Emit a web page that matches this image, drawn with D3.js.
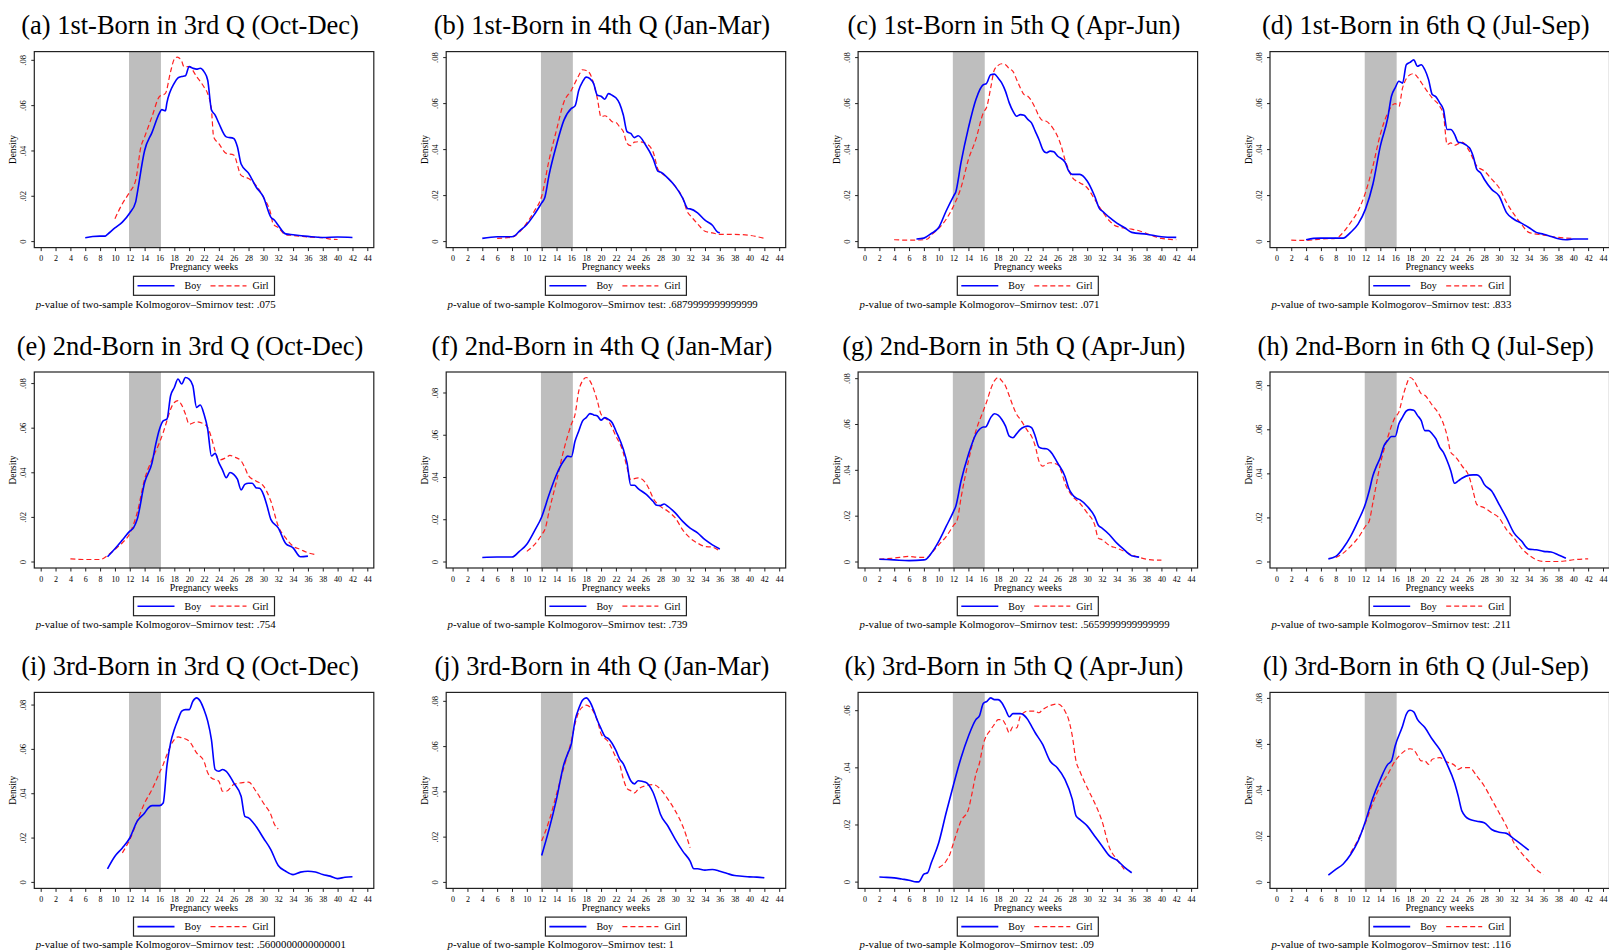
<!DOCTYPE html>
<html>
<head>
<meta charset="utf-8">
<script src="https://cdn.jsdelivr.net/npm/d3@7"></script>
<style>
  body { margin: 0; background: #fff; }
  svg { display: block; }
  text { font-family: "Liberation Serif", "Times New Roman", serif; fill: #000; }
</style>
</head>
<body>
<svg width="1609" height="952"></svg>
<script>
// Panel titles and KS p-values
var titles = [
    "(a) 1st-Born in 3rd Q (Oct-Dec)", "(b) 1st-Born in 4th Q (Jan-Mar)",
    "(c) 1st-Born in 5th Q (Apr-Jun)", "(d) 1st-Born in 6th Q (Jul-Sep)",
    "(e) 2nd-Born in 3rd Q (Oct-Dec)", "(f) 2nd-Born in 4th Q (Jan-Mar)",
    "(g) 2nd-Born in 5th Q (Apr-Jun)", "(h) 2nd-Born in 6th Q (Jul-Sep)",
    "(i) 3rd-Born in 3rd Q (Oct-Dec)", "(j) 3rd-Born in 4th Q (Jan-Mar)",
    "(k) 3rd-Born in 5th Q (Apr-Jun)", "(l) 3rd-Born in 6th Q (Jul-Sep)"
];
var pValues = [".075", ".6879999999999999", ".071", ".833",
               ".754", ".739", ".5659999999999999", ".211",
               ".5600000000000001", "1", ".09", ".116"];

// Axis ticks
var xTicks = [0, 2, 4, 6, 8, 10, 12, 14, 16, 18, 20, 22, 24, 26, 28, 30, 32, 34, 36, 38, 40, 42, 44];
var yTickTop = [.08, .08, .08, .08, .08, .08, .08, .08, .08, .08, .06, .08];
var shadeWeeks = [11.9, 16.2];

// Density curves: [week, density]
var boy_a = [[6,.0015],[7,.002],[8,.0022],[8.7,.0022],[9,.003],[10,.0058],[11,.0084],[12,.0124],[12.8,.0173],[13,.021],[14,.040],[15,.048],[16,.0565],[16.3,.058],[16.8,.0575],[17,.061],[18,.0697],[18.5,.072],[19,.0726],[19.5,.073],[20,.077],[20.5,.0763],[21,.0759],[21.5,.0763],[22,.0748],[22.5,.071],[23,.058],[23.5,.0556],[24,.052],[25,.046],[26,.0453],[26.5,.0416],[27,.034],[28,.030],[29,.024],[30,.0195],[31,.0106],[31.5,.0092],[32,.007],[33,.0032],[34,.0028],[36,.0021],[38,.0016],[40,.0018],[42,.0016]];
var girl_a = [[10,.0099],[11,.0165],[12,.0217],[12.8,.0269],[13.5,.0416],[14,.046],[15,.055],[16,.0638],[16.8,.0652],[17.5,.0748],[18,.0803],[18.4,.0812],[19,.0793],[19.3,.077],[20,.077],[21,.0726],[22,.068],[22.5,.065],[23,.058],[23.3,.046],[24,.043],[25,.0387],[26,.038],[27,.029],[28,.0276],[29,.0246],[30,.0195],[31,.012],[31.3,.0077],[32,.0059],[33,.0028],[34,.0025],[36,.0018],[38,.0015],[39,.0009],[40,.0007]];

var boy_b = [[4,.0012],[6,.0019],[8,.0019],[8.3,.0022],[9,.0043],[10,.0072],[11,.0115],[12,.0166],[12.4,.0187],[13,.0288],[14,.0418],[15,.0526],[16,.0577],[16.5,.0588],[17,.0656],[17.5,.0692],[18,.0713],[18.5,.0706],[19,.0685],[19.5,.0634],[20,.063],[20.5,.0617],[21,.0641],[21.5,.0634],[22,.0623],[22.5,.0598],[23,.0548],[23.5,.0476],[24,.0468],[24.5,.045],[25,.0458],[26,.0418],[27,.036],[27.7,.0303],[28,.030],[29,.0274],[30,.0238],[31,.0187],[31.7,.0141],[32,.014],[33,.0123],[34,.0091],[35,.0069],[35.7,.0039],[36,.0036]];
var girl_b = [[6,.0012],[8,.0017],[9,.0039],[10,.0079],[11,.013],[12,.0195],[13,.0353],[14,.0483],[15,.0605],[16,.0656],[17,.072],[17.5,.0745],[18,.0742],[18.5,.0728],[19,.0685],[19.5,.062],[20,.054],[20.5,.0545],[21,.0536],[21.5,.0519],[22,.0516],[22.5,.0497],[23,.0476],[23.5,.0425],[24,.0415],[24.5,.043],[25,.0432],[26,.0425],[27,.0389],[27.7,.031],[28,.030],[29,.0274],[30,.0238],[31,.0187],[31.7,.0123],[32,.0112],[33,.0075],[34,.0043],[35,.0036],[36,.0029],[38,.0029],[40,.0025],[42,.0012]];

var boy_c = [[7,.0009],[8,.0013],[9,.0033],[10,.0059],[11,.0131],[12,.0196],[12.3,.0214],[13,.0341],[14,.0492],[15,.0615],[16,.068],[16.4,.0684],[17,.0723],[17.5,.0726],[18,.0709],[18.5,.0687],[19,.0651],[19.5,.0601],[20,.0565],[20.5,.0543],[21,.055],[21.5,.0547],[22,.0529],[22.5,.0514],[23,.0478],[23.5,.0442],[24,.0399],[24.5,.0384],[25,.0391],[25.5,.0388],[26,.037],[27,.0344],[27.5,.0305],[28,.029],[29,.029],[30,.0261],[31,.0196],[31.7,.0139],[32,.0131],[33,.0103],[34,.0078],[35,.0059],[36,.0038],[38,.003],[40,.0019],[42,.0016]];
var girl_c = [[4,.0006],[6,.0004],[8,.0006],[8.5,.0009],[9,.0026],[10,.0055],[11,.0095],[12,.0153],[13,.0232],[14,.0355],[15,.0442],[16,.0557],[16.5,.0586],[17,.0666],[17.5,.0745],[18,.0764],[18.5,.0771],[19,.0767],[19.5,.0749],[20,.0738],[20.5,.0702],[21,.0666],[21.5,.0637],[22,.063],[23,.0579],[23.5,.0543],[24,.0524],[24.5,.0521],[25,.0507],[25.5,.0485],[26,.0456],[26.5,.0413],[27,.0355],[27.5,.0312],[28,.0276],[29,.0254],[30,.0232],[31,.0182],[32,.0131],[33,.0088],[34,.0064],[36,.0052],[37,.0045],[38,.0033],[40,.0012],[42,.0006]];

var boy_d = [[4,.0006],[5,.0012],[6,.0013],[8,.0013],[9,.0013],[10,.0038],[11,.0074],[12,.0139],[13,.0247],[14,.0413],[15,.0536],[15.5,.063],[16,.0666],[16.5,.0695],[17,.0687],[17.5,.0767],[18,.0777],[18.5,.0788],[19,.076],[19.5,.0767],[20,.0745],[20.5,.0702],[21,.0637],[21.5,.0627],[22,.0601],[22.5,.0572],[23,.0485],[23.5,.0485],[24,.0464],[24.5,.043],[25,.0427],[26,.0406],[26.5,.037],[27,.0312],[27.5,.0297],[28,.0269],[29,.0225],[30,.0196],[31,.0124],[32,.0095],[33,.0078],[34,.0059],[35,.0038],[36,.003],[37,.002],[38,.001],[39,.0006],[40,.0009],[42,.0009]];
var girl_d = [[2,.0004],[4,.0003],[6,.0009],[8,.0012],[9,.0038],[10,.0081],[11,.0131],[12,.0211],[13,.0326],[14,.0464],[15,.0557],[16,.0598],[16.5,.0586],[17,.0666],[18,.0723],[18.5,.0728],[19,.0713],[20,.0666],[21,.0622],[22,.0586],[22.5,.055],[23,.042],[23.5,.0427],[24,.0416],[25,.043],[26,.0391],[27,.0326],[28,.0305],[29,.0269],[30,.0232],[31,.0168],[32,.0117],[33,.0074],[34,.0038],[36,.0026],[38,.0016],[40,.0012]];

var boy_e = [[9,.0021],[10,.0057],[11,.0096],[12,.0136],[12.5,.0151],[13,.0189],[14,.0354],[15,.0443],[15.5,.0526],[16,.0593],[16.5,.0631],[17,.0638],[17.5,.0743],[18,.078],[18.5,.0818],[19,.0796],[19.5,.0825],[20,.0818],[20.5,.0788],[21,.0691],[21.5,.0702],[22,.0661],[22.5,.0593],[23,.0473],[23.5,.0485],[24,.0443],[24.5,.041],[25,.0376],[25.5,.0399],[26,.0391],[26.5,.0369],[27,.0321],[27.5,.0346],[28,.0351],[28.5,.0351],[29,.0331],[29.5,.0328],[30,.0301],[30.5,.0249],[31,.0189],[32,.0151],[33,.0081],[34,.0061],[35,.0021],[36,.0024]];
var girl_e = [[4,.0012],[6,.0009],[8,.0009],[9,.0027],[10,.0054],[11,.0084],[12,.0126],[13,.0219],[14,.0369],[15,.0458],[16,.0533],[16.5,.0578],[17,.0631],[17.5,.0683],[18,.0713],[18.5,.0721],[19,.0701],[19.5,.0661],[20,.0616],[21,.0626],[22,.0616],[22.5,.0601],[23,.0556],[23.5,.0496],[24,.0455],[25,.0466],[25.5,.0476],[26,.047],[27,.0451],[27.5,.0421],[28,.0384],[29,.0361],[30,.0339],[31,.0271],[32,.0159],[33,.0106],[34,.0069],[35,.0054],[36,.0039],[37,.0031]];

var boy_f = [[4,.0019],[6,.0021],[8,.0021],[9,.0048],[10,.0082],[11,.0143],[12,.0211],[13,.0317],[14,.0412],[15,.0478],[15.5,.0499],[16,.0496],[16.5,.057],[17,.0618],[17.5,.0665],[18,.0681],[18.5,.070],[19,.0694],[19.5,.0689],[20,.0669],[20.5,.0681],[21,.0673],[21.5,.0657],[22,.0618],[23,.0531],[23.5,.0467],[24,.0361],[24.5,.0361],[25,.0345],[26,.032],[27,.0285],[27.5,.0266],[28,.0265],[28.5,.0272],[29,.0261],[30,.023],[31,.019],[32,.0158],[33,.0135],[34,.0103],[35,.0079],[36,.0059]];
var girl_f = [[10,.0048],[11,.0079],[12,.0127],[12.5,.0158],[13,.0238],[14,.038],[15,.0531],[16,.065],[16.5,.0697],[17,.0808],[17.5,.0855],[18,.0871],[18.5,.0855],[19,.0816],[19.5,.076],[20,.0697],[21,.0665],[22,.0594],[23,.0515],[23.5,.0444],[24,.0388],[25,.0396],[26,.0372],[26.5,.0341],[27,.0301],[28,.0261],[29,.0238],[30,.0206],[31,.015],[32,.0111],[33,.0087],[34,.0071],[35,.0068],[36,.0048]];

var boy_g = [[2,.001],[4,.0007],[6,.0004],[8,.0007],[8.3,.001],[9,.0036],[10,.0088],[11,.0153],[12,.0219],[12.3,.0241],[13,.035],[14,.0467],[15,.0555],[15.5,.0577],[16,.0587],[16.3,.0587],[17,.0628],[17.5,.0645],[18,.0639],[18.5,.062],[19,.0591],[19.5,.0547],[20,.054],[20.5,.0558],[21,.0577],[21.5,.0587],[22,.0591],[22.5,.0584],[23,.0547],[23.5,.0499],[24,.0493],[24.5,.0492],[25,.0482],[26,.0431],[27,.0372],[27.5,.0321],[28,.0292],[28.5,.0277],[29,.027],[30,.0241],[31,.0197],[31.5,.0158],[32,.0146],[33,.0117],[34,.008],[35,.0051],[36,.0025],[37,.0019]];
var girl_g = [[2,.001],[4,.0015],[6,.0022],[7,.0019],[8,.0018],[8.5,.0018],[9,.0036],[10,.0073],[11,.0109],[12,.0158],[12.5,.0182],[13,.0277],[14,.0438],[15,.0569],[16,.0657],[16.5,.0701],[17,.0752],[17.5,.0788],[18,.0803],[18.5,.0788],[19,.0766],[19.5,.0723],[20,.0679],[20.5,.0642],[21,.062],[22,.0569],[22.5,.0547],[23,.0504],[23.5,.0438],[24,.0416],[24.5,.0426],[25,.0431],[26,.0423],[26.5,.0394],[27,.0343],[28,.0285],[29,.0255],[30,.0212],[31,.0161],[31.5,.0102],[32,.0095],[33,.007],[34,.0058],[35,.0044],[36,.0029],[37,.0018],[38,.001],[39,.0006],[40,.0006]];

var boy_h = [[7,.0012],[8,.0023],[9,.0061],[10,.0114],[11,.0183],[12,.0262],[12.5,.032],[13,.0389],[13.5,.0434],[14,.0472],[14.5,.0526],[15,.0549],[15.5,.0567],[16,.0567],[16.5,.0625],[17,.0655],[17.5,.0683],[18,.0689],[18.5,.0686],[19,.0663],[19.5,.064],[20,.0594],[20.5,.0594],[21,.0579],[21.5,.0556],[22,.0518],[22.5,.0495],[23,.0457],[23.5,.0411],[24,.0355],[24.5,.0366],[25,.0378],[26,.0392],[26.5,.0393],[27,.0393],[27.5,.0381],[28,.035],[29,.032],[30,.0259],[31,.0198],[32,.013],[33,.0094],[34,.0056],[35,.0053],[36,.0046],[37,.0043],[38,.003],[39,.0015]];
var girl_h = [[8,.0018],[9,.0038],[10,.0069],[11,.0107],[12,.016],[12.5,.0183],[13,.0267],[14,.0442],[15,.0564],[16,.0655],[16.5,.0678],[17,.0744],[17.5,.080],[18,.0835],[18.5,.0823],[19,.0792],[19.5,.0762],[20,.0754],[21,.0709],[22,.0663],[22.5,.0625],[23,.0571],[23.5,.0495],[24,.048],[25,.0434],[26,.0381],[26.5,.032],[27,.0259],[28,.0244],[29,.0221],[30,.0198],[31,.0145],[32,.0107],[33,.0061],[34,.003],[35,.0008],[36,0],[38,0],[39,.0003],[40,.0008],[42,.0012]];

var boy_i = [[9,.0059],[10,.0116],[11,.0153],[12,.0198],[13,.0274],[14,.0311],[14.5,.0334],[15,.0344],[16,.0344],[16.5,.0356],[17,.0522],[17.5,.0627],[18,.0687],[18.5,.0732],[19,.077],[19.5,.0777],[20,.0777],[20.5,.0815],[21,.083],[21.5,.0815],[22,.0777],[22.5,.0725],[23,.0642],[23.5,.0507],[24,.0499],[24.5,.0507],[25,.0499],[26,.0447],[27,.0386],[27.5,.0296],[28,.0289],[29,.0251],[30,.0198],[31,.0146],[32,.0074],[33,.0048],[34,.0033],[35,.0044],[36,.0048],[37,.0045],[38,.0033],[39,.0026],[40,.0015],[41,.0021],[42,.0023]];
var girl_i = [[11,.0131],[12,.0191],[13,.0274],[14,.0356],[15,.0417],[16,.0492],[16.5,.0529],[17,.0574],[18,.0642],[18.5,.0654],[19,.065],[20,.0635],[21,.0582],[22,.0544],[22.5,.0492],[23,.0469],[24,.0454],[24.5,.0409],[25,.0409],[26,.0439],[27,.0447],[28,.045],[29,.0409],[30,.0356],[31,.0304],[31.5,.0259],[32,.0239]];

var boy_j = [[12,.0117],[13,.0233],[14,.0366],[15,.0521],[15.5,.0566],[16,.061],[16.5,.0714],[17,.0766],[17.5,.0803],[18,.0813],[18.5,.0796],[19,.0759],[19.5,.0714],[20,.0677],[20.5,.0644],[21,.0633],[22,.0581],[22.5,.0544],[23,.0521],[23.5,.0484],[24,.0447],[24.5,.0433],[25,.0447],[26,.044],[26.5,.0425],[27,.0396],[27.5,.0351],[28,.0299],[29,.0247],[30,.0188],[31,.0136],[32,.0092],[32.5,.0058],[33,.0058],[34,.0052],[35,.0055],[36,.0047],[37,.0037],[38,.0028],[39,.0025],[40,.0022],[41,.0021],[42,.0018]];
var girl_j = [[12,.0181],[13,.027],[14,.0388],[15,.0507],[16,.0625],[16.5,.0699],[17,.0751],[17.5,.0773],[18,.0781],[18.5,.0773],[19,.0751],[19.5,.0714],[20,.0655],[21,.0618],[22,.0551],[22.5,.0521],[23,.0455],[23.5,.0413],[24,.0403],[24.5,.0393],[25,.041],[26,.0425],[27,.043],[28,.041],[29,.0366],[30,.0314],[31,.0247],[32,.0151]];

var boy_k = [[2,.0016],[3,.0015],[4,.0013],[5,.0009],[6,.0005],[7,-.0001],[7.3,-.0001],[8,.0026],[8.5,.0031],[9,.0066],[10,.0136],[11,.0241],[12,.034],[13,.0433],[14,.0509],[15,.0567],[15.5,.0581],[16,.0623],[16.5,.0631],[17,.0643],[17.5,.0637],[18,.0637],[18.5,.0626],[19,.0602],[19.5,.0577],[20,.0588],[21,.0588],[22,.0567],[22.5,.0544],[23,.0521],[24,.048],[25,.0422],[26,.0398],[27,.0358],[28,.0288],[28.5,.023],[29,.0218],[30,.0195],[31,.016],[32,.0125],[33,.009],[34,.0075],[35,.0051],[36,.0031]];
var girl_k = [[10,.0049],[11,.0072],[11.5,.0096],[12,.0136],[13,.0212],[14,.0253],[14.5,.0311],[15,.0375],[15.5,.0416],[16,.048],[17,.0532],[17.5,.055],[18,.0567],[18.5,.0567],[19,.055],[19.5,.0521],[20,.0542],[20.5,.0538],[21,.0579],[22,.0597],[23,.0597],[23.5,.0591],[24,.0602],[25,.0616],[26,.0622],[27,.0597],[27.5,.0567],[28,.0509],[28.5,.0422],[29,.0387],[30,.0329],[31,.0276],[32,.0212],[33,.0119],[34,.0078],[35,.0043]];

var boy_l = [[7,.0029],[8,.0054],[9,.0078],[10,.0119],[11,.0177],[12,.0264],[13,.0366],[14,.0446],[15,.0511],[15.5,.0526],[16,.0591],[17,.0678],[17.5,.0729],[18,.0746],[18.5,.0739],[19,.0707],[20,.0671],[21,.062],[22,.0576],[23,.0511],[24,.0431],[24.5,.0373],[25,.0308],[26,.0272],[27,.0264],[28,.0257],[29,.0228],[30,.0216],[31,.0211],[32,.0187],[33,.0163],[34,.0138]];
var girl_l = [[10,.0126],[11,.0184],[12,.0257],[13,.0344],[14,.0417],[15,.0468],[16,.0526],[17,.0562],[18,.0579],[18.5,.0574],[19,.055],[19.5,.0526],[20,.0526],[20.5,.0511],[21,.0533],[22,.054],[23,.0521],[24,.0507],[24.5,.0489],[25,.0497],[26,.0497],[27,.046],[28,.0417],[29,.0359],[30,.0301],[31,.0242],[32,.017],[33,.0126],[34,.009],[35,.0054],[36,.0032]];

var boys = [boy_a, boy_b, boy_c, boy_d, boy_e, boy_f, boy_g, boy_h, boy_i, boy_j, boy_k, boy_l];
var girls = [girl_a, girl_b, girl_c, girl_d, girl_e, girl_f, girl_g, girl_h, girl_i, girl_j, girl_k, girl_l];

// Layout
var colX0 = 40.7, colStep = 411.9, xSpan = 326.6,
    rowTop = 51.6, rowStep = 320.4, frameH = 196;

var boyColour = "#0000ff", girlColour = "#ff2020";
var serif = '"Liberation Serif", "Times New Roman", serif';

var svg = d3.select("svg");
svg.append("rect").attr("width", 1609).attr("height", 952).attr("fill", "#fff");

titles.forEach(function(title, i) {
    var col = i % 4, row = Math.floor(i / 4);
    var top = rowTop + row * rowStep,
        bottom = top + frameH;

    var x = d3.scaleLinear()
        .domain([0, 44])
        .range([colX0 + col * colStep, colX0 + col * colStep + xSpan]);
    var left = x(0) - 6.4, right = x(44) + 6.5, mid = x(22);

    var all = boys[i].concat(girls[i]);
    var yMax = Math.max(yTickTop[i], d3.max(all, function(d) { return d[1]; })),
        yMin = Math.min(0, d3.min(all, function(d) { return d[1]; }));
    var y = d3.scaleLinear()
        .domain([yMin, yMax])
        .range([bottom - 6.5, top + 5.5]);

    var g = svg.append("g").attr("class", "panel");

    // Title
    g.append("text")
        .attr("x", (left + right) / 2 - 14)
        .attr("y", top - 17.4)
        .attr("text-anchor", "middle")
        .style("font-size", "26.5px")
        .text(title);

    // Shaded weeks 12-16
    g.append("rect")
        .attr("x", x(shadeWeeks[0]))
        .attr("y", top)
        .attr("width", x(shadeWeeks[1]) - x(shadeWeeks[0]))
        .attr("height", bottom - top)
        .attr("fill", "#bebebe");

    // Curves
    var line = d3.line()
        .x(function(d) { return x(d[0]); })
        .y(function(d) { return y(d[1]); })
        .curve(d3.curveMonotoneX);

    g.append("path")
        .datum(girls[i])
        .attr("d", line)
        .attr("fill", "none")
        .attr("stroke", girlColour)
        .attr("stroke-width", 1.2)
        .attr("stroke-dasharray", "5,3");

    g.append("path")
        .datum(boys[i])
        .attr("d", line)
        .attr("fill", "none")
        .attr("stroke", boyColour)
        .attr("stroke-width", 1.6);

    // Frame
    g.append("rect")
        .attr("x", left)
        .attr("y", top)
        .attr("width", right - left)
        .attr("height", bottom - top)
        .attr("fill", "none")
        .attr("stroke", "#222")
        .attr("stroke-width", 1.2);

    // X axis
    var xAxis = g.append("g")
        .attr("transform", "translate(0," + bottom + ")")
        .call(d3.axisBottom(x).tickValues(xTicks).tickSize(3.5).tickPadding(4.6));
    xAxis.select(".domain").remove();
    xAxis.selectAll("line").attr("stroke", "#222");
    xAxis.selectAll("text")
        .style("font-family", serif)
        .style("font-size", "8px")
        .attr("fill", "#222");

    // Y axis, labels rotated
    var yTicks = d3.range(0, yTickTop[i] + 0.001, 0.02);
    var yAxis = g.append("g")
        .attr("transform", "translate(" + left + ",0)")
        .call(d3.axisLeft(y).tickValues(yTicks).tickSize(3)
            .tickFormat(function(d) { return d === 0 ? "0" : d3.format(".2f")(d).replace("0.", "."); }));
    yAxis.select(".domain").remove();
    yAxis.selectAll("line").attr("stroke", "#222");
    yAxis.selectAll("text")
        .attr("x", 0)
        .attr("y", -8.3)
        .attr("dy", null)
        .attr("text-anchor", "middle")
        .attr("transform", "rotate(-90)")
        .style("font-family", serif)
        .style("font-size", "8.5px")
        .attr("fill", "#222");

    // Axis titles
    g.append("text")
        .attr("x", mid)
        .attr("y", bottom + 22.7)
        .attr("text-anchor", "middle")
        .style("font-size", "9.8px")
        .text("Pregnancy weeks");

    g.append("text")
        .attr("transform", "translate(" + (left - 18) + "," + ((top + bottom) / 2) + ") rotate(-90)")
        .attr("text-anchor", "middle")
        .style("font-size", "9.3px")
        .text("Density");

    // Legend
    var lw = 141, lh = 19, lx = mid - lw / 2, ly = bottom + 28.7, lm = ly + lh / 2;
    var leg = g.append("g");
    leg.append("rect")
        .attr("x", lx).attr("y", ly)
        .attr("width", lw).attr("height", lh)
        .attr("fill", "#fff")
        .attr("stroke", "#222")
        .attr("stroke-width", 1.2);
    leg.append("line")
        .attr("x1", lx + 4).attr("x2", lx + 41)
        .attr("y1", lm).attr("y2", lm)
        .attr("stroke", boyColour).attr("stroke-width", 1.6);
    leg.append("text")
        .attr("x", lx + 51).attr("y", lm + 3.5)
        .style("font-size", "10px")
        .text("Boy");
    leg.append("line")
        .attr("x1", lx + 77).attr("x2", lx + 113)
        .attr("y1", lm).attr("y2", lm)
        .attr("stroke", girlColour).attr("stroke-width", 1.2)
        .attr("stroke-dasharray", "5,3");
    leg.append("text")
        .attr("x", lx + 119).attr("y", lm + 3.5)
        .style("font-size", "10px")
        .text("Girl");

    // KS test note
    var note = g.append("text")
        .attr("x", left + 1.4)
        .attr("y", bottom + 60)
        .style("font-size", "10.8px");
    note.append("tspan").style("font-style", "italic").text("p");
    note.append("tspan").text("-value of two-sample Kolmogorov\u2013Smirnov test: " + pValues[i]);
});
</script>
</body>
</html>
